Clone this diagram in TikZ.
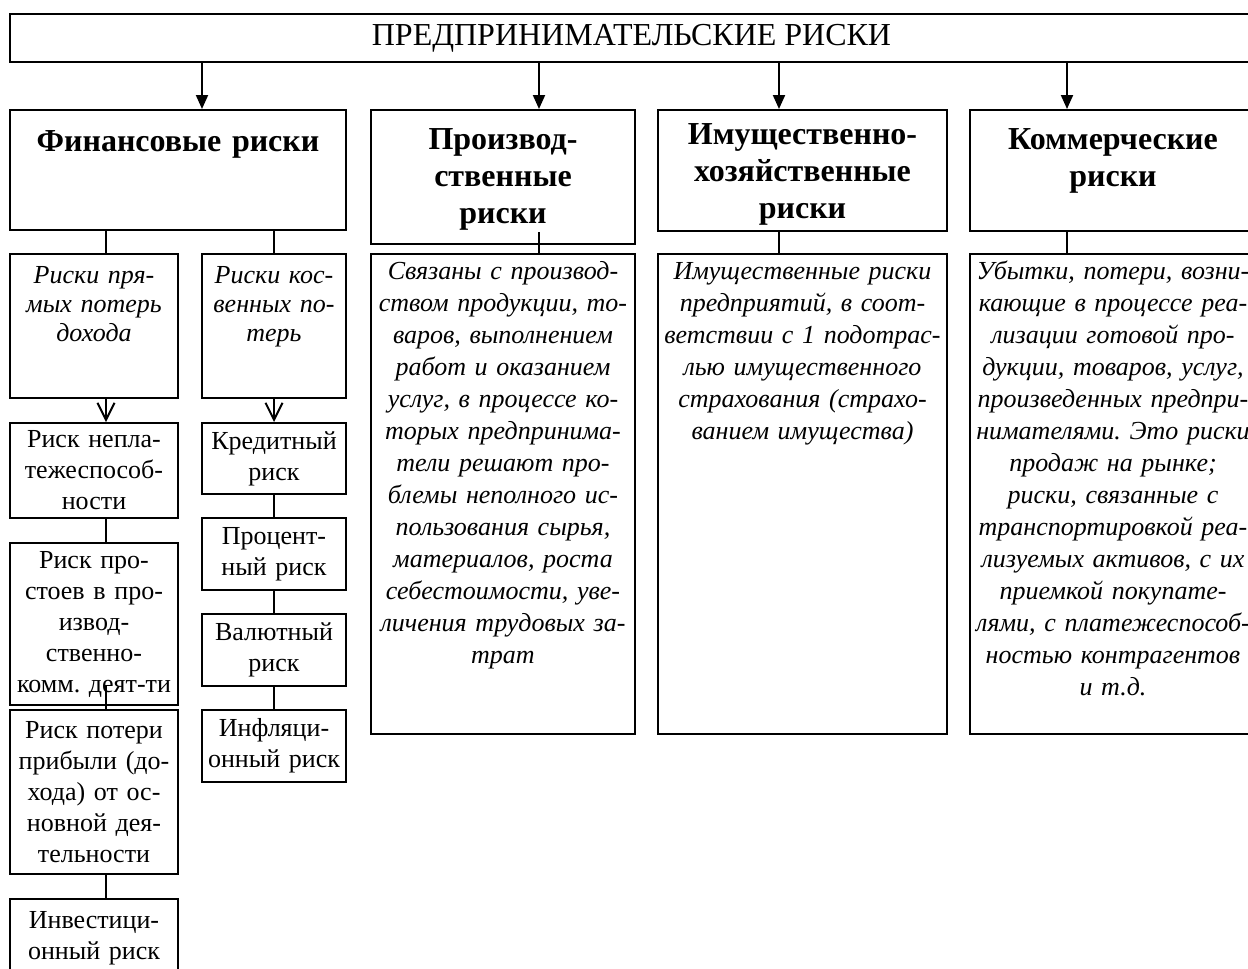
\documentclass[tikz,border=0pt]{standalone}
\usepackage{fontspec}
\setmainfont{Liberation Serif}
\usetikzlibrary{arrows.meta}
\frenchspacing

\begin{document}
\begin{tikzpicture}[
    x=0.5pt, y=-0.5pt, % one unit = one pixel of the scan, y downwards
    line width=1pt,
    >={Triangle[length=7pt, width=6pt]}, % filled tips under the top box
    vtip/.style={-{Straight Barb[length=8.5pt, width=8.5pt]}}, % open tips
    boxnode/.style={draw, rectangle, anchor=north west, inner sep=0pt},
    headtext/.style={anchor=base, inner sep=0pt, align=center, text width=170pt,
        font=\fontsize{16}{18.5}\selectfont\bfseries},
    desctext/.style={anchor=base, inner sep=0pt, align=center, text width=160pt,
        font=\fontsize{13}{16}\selectfont\itshape},
    subtext/.style={anchor=base, inner sep=0pt, align=center, text width=90pt,
        font=\fontsize{13}{14.5}\selectfont\itshape},
    itembox/.style={boxnode, align=center, text width=#1, minimum width=#1,
        font=\fontsize{13}{15.5}\selectfont}
]

\useasboundingbox (0,0) rectangle (1248,969);
\clip (0,0) rectangle (1248,969);

% Top box
\node[boxnode, minimum width=621.5pt, minimum height=24pt, font=\fontsize{16}{19}\selectfont]
    (risks) at (9,13) {ПРЕДПРИНИМАТЕЛЬСКИЕ РИСКИ};

% Four kinds of risk
\node[boxnode, minimum width=168pt, minimum height=60pt] (fin) at (9,109) {};
\node[boxnode, minimum width=132pt, minimum height=67pt] (prod) at (370,109) {};
\node[boxnode, minimum width=144.5pt, minimum height=60.5pt] (prop) at (657,109) {};
\node[boxnode, minimum width=143pt, minimum height=60.5pt] (comm) at (969,109) {};

\node[headtext] (finname) at ([yshift=-21pt]fin.north) {Финансовые риски};
\node[headtext] (prodname) at ([yshift=-20pt]prod.north) {Производ-\\ственные\\риски};
\node[headtext] (propname) at ([yshift=-17.5pt]prop.north) {Имущественно-\\хозяйственные\\риски};
\node[headtext] (commname) at ([yshift=-20pt]comm.north) {Коммерческие\\риски};

% Arrows from the top box
\draw[->] ([xshift=12pt]fin.north |- risks.south) -- ([xshift=12pt]fin.north);
\draw[->] ([xshift=18pt]prod.north |- risks.south) -- ([xshift=18pt]prod.north);
\draw[->] ([xshift=-11.75pt]prop.north |- risks.south) -- ([xshift=-11.75pt]prop.north);
\draw[->] ([xshift=-23pt]comm.north |- risks.south) -- ([xshift=-23pt]comm.north);

% Financial risks: two groups
\node[boxnode, minimum width=84pt, minimum height=72pt] (direct) at (9,253) {};
\node[boxnode, minimum width=72pt, minimum height=72pt] (indirect) at (201,253) {};
\node[subtext] (directname) at ([yshift=-15pt]direct.north) {Риски пря-\\мых потерь\\дохода};
\node[subtext] (indirectname) at ([yshift=-15pt]indirect.north) {Риски кос-\\венных по-\\терь};

\draw ([xshift=6pt]direct.north) -- ([xshift=6pt]direct.north |- fin.south);
\draw (indirect.north) -- (indirect.north |- fin.south);

% Descriptions
\node[boxnode, minimum width=132pt, minimum height=240pt] (proddesc) at (370,253) {};
\node[boxnode, minimum width=144.5pt, minimum height=240pt] (propdesc) at (657,253) {};
\node[boxnode, minimum width=143pt, minimum height=240pt] (commdesc) at (969,253) {};

\node[desctext] (prodtext) at ([yshift=-13pt]proddesc.north) {Связаны с производ-\\ством продукции, то-\\варов, выполнением\\работ и оказанием\\услуг, в процессе ко-\\торых предпринима-\\тели решают про-\\блемы неполного ис-\\пользования сырья,\\материалов, роста\\себестоимости, уве-\\личения трудовых за-\\трат};
\node[desctext] (proptext) at ([yshift=-13pt]propdesc.north) {Имущественные риски\\предприятий, в соот-\\ветствии с 1 подотрас-\\лью имущественного\\страхования (страхо-\\ванием имущества)};
\node[desctext] (commtext) at ([yshift=-13pt]commdesc.north) {Убытки, потери, возни-\\кающие в процессе реа-\\лизации готовой про-\\дукции, товаров, услуг,\\произведенных предпри-\\нимателями. Это риски\\продаж на рынке;\\риски, связанные с\\транспортировкой реа-\\лизуемых активов, с их\\приемкой покупате-\\лями, с платежеспособ-\\ностью контрагентов\\и т.д.};

\draw ([xshift=18pt]proddesc.north) -- ([xshift=18pt]proddesc.north |- prop.south);
\draw ([xshift=-11.75pt]propdesc.north) -- ([xshift=-11.75pt]propdesc.north |- prop.south);
\draw ([xshift=-23pt]commdesc.north) -- ([xshift=-23pt]commdesc.north |- comm.south);

% Direct losses
\node[itembox=84pt, minimum height=47.5pt] (insolv) at (9,422) {Риск непла-\\тежеспособ-\\ности};
\node[itembox=84pt, minimum height=81pt] (downtime) at (9,542) {Риск про-\\стоев в про-\\извод-\\ственно-\\комм. деят-ти};
\node[itembox=84pt, minimum height=82pt] (profit) at (9,709) {Риск потери\\прибыли (до-\\хода) от ос-\\новной дея-\\тельности};
\node[itembox=84pt, minimum height=39.5pt] (invest) at (9,898) {Инвестици-\\онный риск};

\draw[vtip] ([xshift=6pt]direct.south) -- ([xshift=6pt]insolv.north);
\draw ([xshift=6pt]insolv.south) -- ([xshift=6pt]downtime.north);
\draw ([xshift=6pt, yshift=11.5pt]profit.north) -- ([xshift=6pt]profit.north);
\draw ([xshift=6pt]profit.south) -- ([xshift=6pt]invest.north);

% Indirect losses
\node[itembox=72pt, minimum height=35.5pt] (credit) at (201,422) {Кредитный\\риск};
\node[itembox=72pt, minimum height=36pt] (interest) at (201,517) {Процент-\\ный риск};
\node[itembox=72pt, minimum height=36pt] (currency) at (201,613) {Валютный\\риск};
\node[itembox=72pt, minimum height=36pt] (inflation) at (201,709) {Инфляци-\\онный риск};

\draw[vtip] (indirect.south) -- (credit.north);
\draw (credit.south) -- (interest.north);
\draw (interest.south) -- (currency.north);
\draw (currency.south) -- (inflation.north);

\end{tikzpicture}
\end{document}
